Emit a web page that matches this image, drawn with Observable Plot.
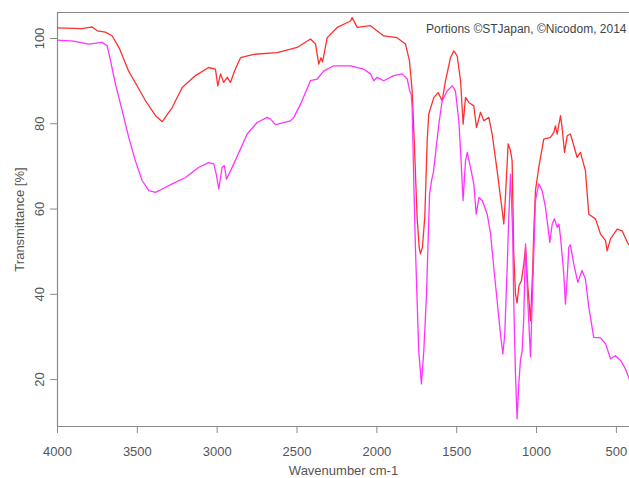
<!DOCTYPE html>
<html>
<head>
<meta charset="utf-8">
<script src="https://cdn.jsdelivr.net/npm/d3@7"></script>
<script src="https://cdn.jsdelivr.net/npm/@observablehq/plot@0.6"></script>
<style>
  body { margin: 0; background: #fff; }
  #chart svg { display: block; }
</style>
</head>
<body>
<div id="chart"></div>
<script>
// IR transmittance spectra (two samples), wavenumber axis runs high → low
const wavenumberTicks = [4000, 3500, 3000, 2500, 2000, 1500, 1000, 500];
const transmittanceTicks = [20, 40, 60, 80, 100];
const wavenumberRange = [4000, 418];
const transmittanceRange = [9, 106.1];
const creditText = "Portions \u00A9STJapan, \u00A9Nicodom, 2014";

const redWavenumber = [
  4000, 3900, 3850, 3800, 3783, 3751, 3700, 3657, 3610, 3555, 3500, 3449, 3386, 3344,
  3282, 3219, 3136, 3054, 3011, 2996, 2979, 2959, 2937, 2917, 2890, 2854, 2771, 2624,
  2499, 2416, 2384, 2364, 2350, 2340, 2311, 2248, 2165, 2155, 2123, 2040, 1957, 1873,
  1821, 1796, 1779, 1765, 1748, 1735, 1727, 1715, 1700, 1685, 1675, 1643, 1616, 1591,
  1570, 1539, 1518, 1497, 1476, 1460, 1445, 1424, 1393, 1376, 1351, 1330, 1299, 1278,
  1247, 1215, 1205, 1195, 1178, 1163, 1153, 1143, 1132, 1122, 1110, 1095, 1080, 1069,
  1055, 1038, 1025, 1017, 1007, 986, 955, 913, 892, 882, 871, 850, 840, 825, 808, 788,
  767, 746, 725, 694, 673, 631, 600, 568, 558, 537, 495, 464, 432, 418
];
const redTransmittance = [
  102.5, 102.4, 102.3, 102.6, 102.7, 101.8, 101.5, 100.6, 97.5, 92.4, 88.8, 85.4, 81.9, 80.5,
  83.8, 88.5, 91.3, 93.2, 92.8, 88.9, 91.7, 89.7, 90.9, 89.7, 92.5, 95.5, 96.3, 96.7,
  97.9, 99.9, 98.7, 94.0, 95.5, 94.5, 100.2, 102.6, 104.1, 104.9, 102.6, 103.0, 100.6, 100.2,
  98.7, 94.8, 87.7, 75.0, 58.0, 51.0, 49.5, 51.0, 58.1, 76.0, 82.3, 86.2, 87.3, 85.4,
  90.1, 95.5, 97.1, 95.9, 90.1, 79.9, 86.2, 85.0, 84.2, 79.1, 82.7, 80.7, 81.5, 77.6,
  69.0, 59.6, 56.5, 62.7, 75.3, 73.7, 71.3, 50.0, 40.0, 38.0, 42.0, 43.2, 47.1, 51.0,
  42.0, 33.8, 45.0, 55.0, 64.3, 69.8, 76.4, 76.8, 78.0, 79.5, 77.6, 81.9, 79.1, 73.3, 77.2, 77.6,
  74.9, 72.1, 73.3, 69.0, 58.8, 57.7, 54.2, 52.6, 50.2, 53.0, 55.3, 54.9, 52.2, 51.4
];

const magentaWavenumber = [
  4000, 3900, 3804, 3720, 3689, 3668, 3637, 3595, 3554, 3512, 3470, 3428, 3386, 3344,
  3282, 3198, 3115, 3053, 3021, 3005, 2990, 2969, 2955, 2942, 2896, 2812, 2750, 2687,
  2666, 2635, 2541, 2520, 2478, 2416, 2374, 2332, 2270, 2165, 2082, 2040, 2019, 1998,
  1957, 1894, 1842, 1810, 1794, 1785, 1779, 1768, 1758, 1748, 1738, 1721, 1706, 1689,
  1681, 1670, 1658, 1646, 1633, 1612, 1591, 1560, 1528, 1508, 1487, 1476, 1460, 1445,
  1434, 1414, 1393, 1378, 1361, 1340, 1309, 1288, 1268, 1247, 1226, 1211, 1199, 1184,
  1174, 1163, 1150, 1143, 1132, 1122, 1111, 1101, 1090, 1080, 1069, 1055, 1038, 1027,
  1017, 1007, 986, 965, 944, 917, 902, 888, 871, 860, 850, 830, 819, 808, 798, 788,
  767, 742, 715, 694, 673, 642, 600, 568, 537, 506, 474, 443, 418
];
const magentaTransmittance = [
  99.6, 99.4, 98.7, 99.1, 98.3, 94.8, 89.3, 83.1, 76.8, 71.3, 66.7, 64.3, 63.9, 64.7,
  65.9, 67.4, 69.8, 70.9, 70.6, 68.0, 64.7, 69.8, 70.2, 67.0, 70.6, 77.6, 80.3, 81.5,
  81.1, 79.8, 80.7, 81.5, 84.6, 90.1, 90.5, 92.4, 93.6, 93.6, 92.8, 91.7, 90.1, 90.9,
  90.1, 91.3, 91.7, 90.5, 87.7, 87.0, 83.8, 65.0, 50.2, 38.5, 26.8, 19.0, 26.8, 40.1,
  50.2, 63.5, 66.6, 68.6, 72.9, 79.9, 85.4, 87.7, 88.9, 87.7, 80.7, 73.7, 62.0, 71.3,
  73.3, 69.8, 65.9, 58.8, 62.7, 62.0, 58.8, 54.2, 46.3, 38.5, 30.7, 26.0, 30.7, 46.3,
  58.1, 68.2, 55.0, 38.5, 21.2, 10.8, 19.0, 24.5, 26.8, 34.6, 51.8, 38.5, 25.3, 38.5,
  50.2, 62.0, 65.9, 64.3, 60.4, 52.2, 56.5, 57.7, 55.7, 56.5, 53.4, 45.0, 37.7, 44.0, 51.0, 51.6,
  47.1, 42.8, 45.6, 43.6, 37.0, 29.9, 29.8, 28.4, 24.9, 25.6, 24.5, 22.5, 20.0
];

const redSpectrum = redWavenumber.map((w, i) => ({w, t: redTransmittance[i]}));
const magentaSpectrum = magentaWavenumber.map((w, i) => ({w, t: magentaTransmittance[i]}));

const axisColor = "#8a8a8a";
const textColor = "#555";

const chart = Plot.plot({
  width: 629,
  height: 478,
  marginLeft: 57,
  marginRight: 0,
  marginTop: 12,
  marginBottom: 52,
  style: {
    fontFamily: "'Liberation Sans', Arial, sans-serif",
    fontSize: "13px",
    color: textColor,
    background: "#fff",
    overflow: "visible"
  },
  x: {domain: wavenumberRange},
  y: {domain: transmittanceRange},
  marks: [
    // plot box: left, bottom and top edges
    Plot.ruleX([wavenumberRange[0]], {stroke: axisColor, strokeWidth: 1.2}),
    Plot.ruleY([transmittanceRange[0]], {stroke: axisColor, strokeWidth: 1.2}),
    Plot.ruleY([transmittanceRange[1]], {stroke: axisColor, strokeWidth: 1.2}),
    Plot.axisX({
      ticks: wavenumberTicks,
      tickFormat: d3.format("d"),
      tickSize: 7,
      tickPadding: 13,
      stroke: axisColor,
      fill: textColor,
      label: "Wavenumber cm-1",
      labelAnchor: "center",
      labelArrow: "none",
      labelOffset: 48
    }),
    Plot.axisY({
      ticks: transmittanceTicks,
      tickFormat: d3.format("d"),
      tickSize: 7,
      tickPadding: 7,
      tickRotate: -90,
      stroke: axisColor,
      fill: textColor,
      label: "Transmittance [%]",
      labelAnchor: "center",
      labelArrow: "none",
      labelOffset: 43
    }),
    Plot.line(redSpectrum, {x: "w", y: "t", stroke: "#ff3030", strokeWidth: 1.3, curve: "linear"}),
    Plot.line(magentaSpectrum, {x: "w", y: "t", stroke: "#ff33ff", strokeWidth: 1.3, curve: "linear"}),
    Plot.text([creditText], {
      frameAnchor: "top-right",
      dx: -3,
      dy: 12,
      fontSize: 12,
      fill: "#444",
      textAnchor: "end"
    })
  ]
});

document.getElementById("chart").appendChild(chart);
</script>
</body>
</html>
